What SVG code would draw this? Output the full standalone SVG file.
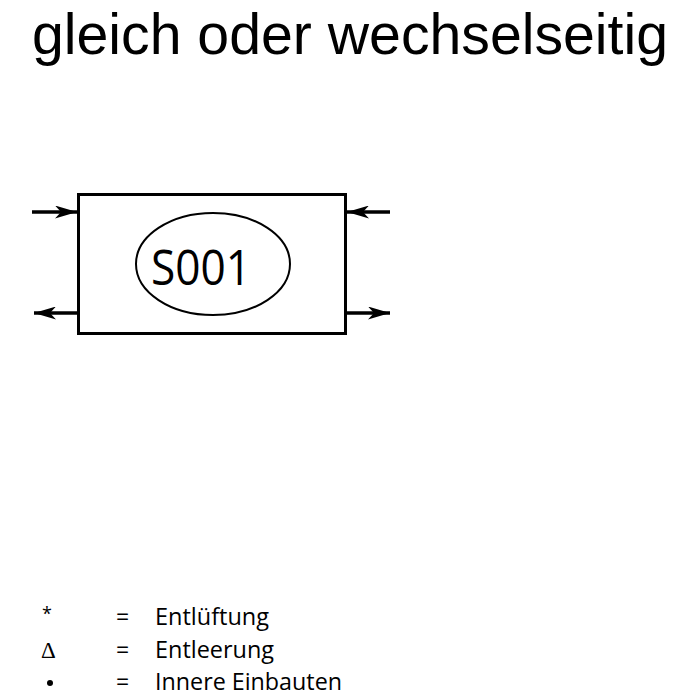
<svg xmlns="http://www.w3.org/2000/svg" width="700" height="700" viewBox="0 0 700 700">
<style>
  text { font-family: "Open Sans", "Noto Sans", "Liberation Sans", sans-serif; fill: #000; }
  .title { font-family: "Liberation Sans", "Open Sans", sans-serif; font-size: 57px; }
  .lbl { font-size: 50px; }
  .leg { font-size: 23px; }
  .ln { stroke: #000; stroke-width: 3.5; fill: none; }
</style>
<defs>
  <marker id="ah" viewBox="0 0 22 13" refX="22" refY="6.5" markerWidth="22" markerHeight="13" markerUnits="userSpaceOnUse" orient="auto">
    <path d="M0,0 L22,6.5 L0,13 L6,6.5 Z" fill="#000"/>
  </marker>
</defs>
<rect width="700" height="700" fill="#fff"/>
<text class="title" x="32" y="54" textLength="636" lengthAdjust="spacingAndGlyphs">gleich oder wechselseitig</text>
<g id="node-S001">
  <rect x="78.5" y="194.5" width="267" height="139" fill="#fff" stroke="#000" stroke-width="3"/>
  <ellipse cx="213" cy="264" rx="77" ry="51" fill="none" stroke="#000" stroke-width="2"/>
  <text class="lbl" x="151" y="285" textLength="100" lengthAdjust="spacingAndGlyphs">S001</text>
</g>
<g id="connectors">
  <line class="ln" x1="32" y1="212" x2="77" y2="212" marker-end="url(#ah)"/>
  <line class="ln" x1="390" y1="212" x2="347" y2="212" marker-end="url(#ah)"/>
  <line class="ln" x1="77" y1="313" x2="34" y2="313" marker-end="url(#ah)"/>
  <line class="ln" x1="347" y1="313" x2="390" y2="313" marker-end="url(#ah)"/>
</g>
<g id="legend">
  <text x="42" y="620" style="font-size:18px">*</text>
  <text class="leg" x="116" y="625">=</text>
  <text class="leg" x="155" y="625" textLength="114" lengthAdjust="spacingAndGlyphs">Entlüftung</text>
  <text class="leg" x="41" y="658" style="font-family:'Liberation Serif',serif">Δ</text>
  <text class="leg" x="116" y="658">=</text>
  <text class="leg" x="155" y="658" textLength="119" lengthAdjust="spacingAndGlyphs">Entleerung</text>
  <circle cx="50" cy="683" r="3"/>
  <text class="leg" x="116" y="690">=</text>
  <text class="leg" x="155" y="690" textLength="187" lengthAdjust="spacingAndGlyphs">Innere Einbauten</text>
</g>
</svg>
